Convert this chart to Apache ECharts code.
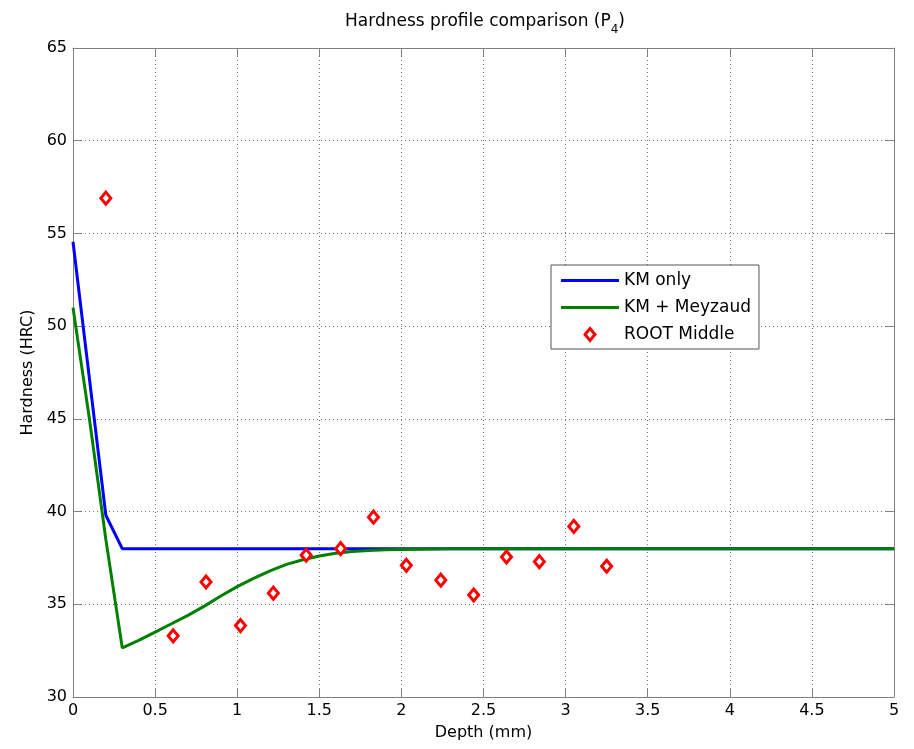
<!DOCTYPE html>
<html>
<head>
<meta charset="utf-8">
<title>Hardness profile comparison</title>
<script src="https://cdn.jsdelivr.net/npm/echarts@6/dist/echarts.min.js"></script>
<style>
  html, body { margin: 0; padding: 0; background: #fff; }
  #chart { width: 914px; height: 749px; }
</style>
</head>
<body>
<div id="chart"></div>
<script>
// Model curve: Koistinen-Marburger only
const kmOnlyDepth = [0, 0.2, 0.3, 5];
const kmOnlyHardness = [54.55, 39.8, 38.0, 38.0];

// Model curve: Koistinen-Marburger + Meyzaud
const meyzaudDepth = [0, 0.1, 0.2, 0.3, 0.4, 0.5, 0.6, 0.7, 0.8, 0.9, 1.0, 1.1, 1.2,
  1.3, 1.4, 1.5, 1.6, 1.7, 1.8, 1.9, 2.0, 2.1, 2.2, 2.3, 2.4, 5];
const meyzaudHardness = [51.0, 45.0, 38.5, 32.65, 33.05, 33.5, 33.95, 34.4, 34.9, 35.45,
  35.95, 36.4, 36.8, 37.15, 37.4, 37.6, 37.75, 37.85, 37.9, 37.94, 37.96, 37.97, 37.98,
  37.99, 38.0, 38.0];

// Measured hardness, root middle
const rootDepth = [0.2, 0.61, 0.81, 1.02, 1.22, 1.42, 1.63, 1.83, 2.03, 2.24, 2.44, 2.64, 2.84, 3.05, 3.25];
const rootHardness = [56.9, 33.3, 36.2, 33.85, 35.6, 37.65, 38.0, 39.7, 37.1, 36.3, 35.5, 37.55, 37.3, 39.2, 37.05];

// Axis ranges: [min, max, interval]
const depthRange = [0, 5, 0.5];
const hardnessRange = [30, 65, 5];

const zip = (xs, ys) => xs.map((x, i) => [x, ys[i]]);

const FONT = '"DejaVu Sans", "Liberation Sans", Arial, sans-serif';
const AXIS_GREY = '#808080';

// Legend glyphs: a flat bar for the model curves, a diamond for the measurements
const LINE_ICON = 'path://M0,0 L58,0 L58,3 L0,3 Z';
const DIAMOND_ICON = 'path://M5,0 L10,6 L5,12 L0,6 Z';

const chart = echarts.init(document.getElementById('chart'), null, { renderer: 'canvas' });

// Plain axis used for the top and right edges of the plot box
const boxAxis = (position) => ({
  position: position,
  axisLine: { show: true, onZero: false, lineStyle: { color: AXIS_GREY, width: 1 } },
  axisTick: { show: true, inside: true, length: 8, lineStyle: { color: AXIS_GREY } },
  axisLabel: { show: false },
  splitLine: { show: false }
});

const gridLine = { show: true, lineStyle: { color: '#777', width: 1, type: [1, 3] } };

chart.setOption({
  animation: false,
  backgroundColor: '#fff',
  textStyle: { fontFamily: FONT, color: '#000' },
  title: {
    text: 'Hardness profile comparison (P{sub|4})',
    left: 485,
    top: 8,
    padding: 0,
    textAlign: 'center',
    textStyle: {
      fontFamily: FONT, fontSize: 17, fontWeight: 'normal', color: '#000',
      rich: {
        sub: { fontFamily: FONT, fontSize: 12, color: '#000', padding: [16, 0, 0, 0] }
      }
    }
  },
  grid: { left: 73, right: 20, top: 48, bottom: 52, containLabel: false },
  legend: {
    orient: 'vertical',
    left: 551,
    top: 265,
    padding: [7, 8, 6, 10],
    itemWidth: 58,
    itemHeight: 12,
    itemGap: 10,
    symbolKeepAspect: true,
    backgroundColor: '#fff',
    borderColor: '#555',
    borderWidth: 1,
    borderRadius: 0,
    textStyle: { fontFamily: FONT, fontSize: 17, color: '#000' },
    data: [
      { name: 'KM only', icon: LINE_ICON, itemStyle: { color: '#0000ff', borderWidth: 0 } },
      { name: 'KM + Meyzaud', icon: LINE_ICON, itemStyle: { color: '#008000', borderWidth: 0 } },
      { name: 'ROOT Middle', icon: DIAMOND_ICON, itemStyle: { color: '#fff', borderColor: '#ff0000', borderWidth: 3 } }
    ]
  },
  xAxis: [
    {
      type: 'value',
      min: depthRange[0], max: depthRange[1], interval: depthRange[2],
      name: 'Depth (mm)',
      nameLocation: 'middle',
      nameGap: 28,
      nameTextStyle: { fontFamily: FONT, fontSize: 16, color: '#000' },
      axisLine: { show: true, onZero: false, lineStyle: { color: AXIS_GREY, width: 1 } },
      axisTick: { show: true, inside: true, length: 8, lineStyle: { color: AXIS_GREY } },
      axisLabel: { fontFamily: FONT, fontSize: 16, color: '#000', margin: 6 },
      splitLine: gridLine
    },
    Object.assign({ type: 'value', min: depthRange[0], max: depthRange[1], interval: depthRange[2] }, boxAxis('top'))
  ],
  yAxis: [
    {
      type: 'value',
      min: hardnessRange[0], max: hardnessRange[1], interval: hardnessRange[2],
      name: 'Hardness (HRC)',
      nameLocation: 'middle',
      nameGap: 37,
      nameTextStyle: { fontFamily: FONT, fontSize: 16, color: '#000' },
      axisLine: { show: true, onZero: false, lineStyle: { color: AXIS_GREY, width: 1 } },
      axisTick: { show: true, inside: true, length: 8, lineStyle: { color: AXIS_GREY } },
      axisLabel: { fontFamily: FONT, fontSize: 16, color: '#000', margin: 6 },
      splitLine: gridLine
    },
    Object.assign({ type: 'value', min: hardnessRange[0], max: hardnessRange[1], interval: hardnessRange[2] }, boxAxis('right'))
  ],
  series: [
    {
      name: 'KM only',
      type: 'line',
      data: zip(kmOnlyDepth, kmOnlyHardness),
      symbol: 'none',
      lineStyle: { color: '#0000ff', width: 3 },
      itemStyle: { color: '#0000ff' },
      z: 2
    },
    {
      name: 'KM + Meyzaud',
      type: 'line',
      data: zip(meyzaudDepth, meyzaudHardness),
      symbol: 'none',
      lineStyle: { color: '#008000', width: 3 },
      itemStyle: { color: '#008000' },
      z: 3
    },
    {
      name: 'ROOT Middle',
      type: 'scatter',
      data: zip(rootDepth, rootHardness),
      symbol: 'diamond',
      symbolSize: [10, 12],
      itemStyle: { color: '#fff', borderColor: '#ff0000', borderWidth: 3, opacity: 1 },
      z: 4
    }
  ]
});
</script>
</body>
</html>
